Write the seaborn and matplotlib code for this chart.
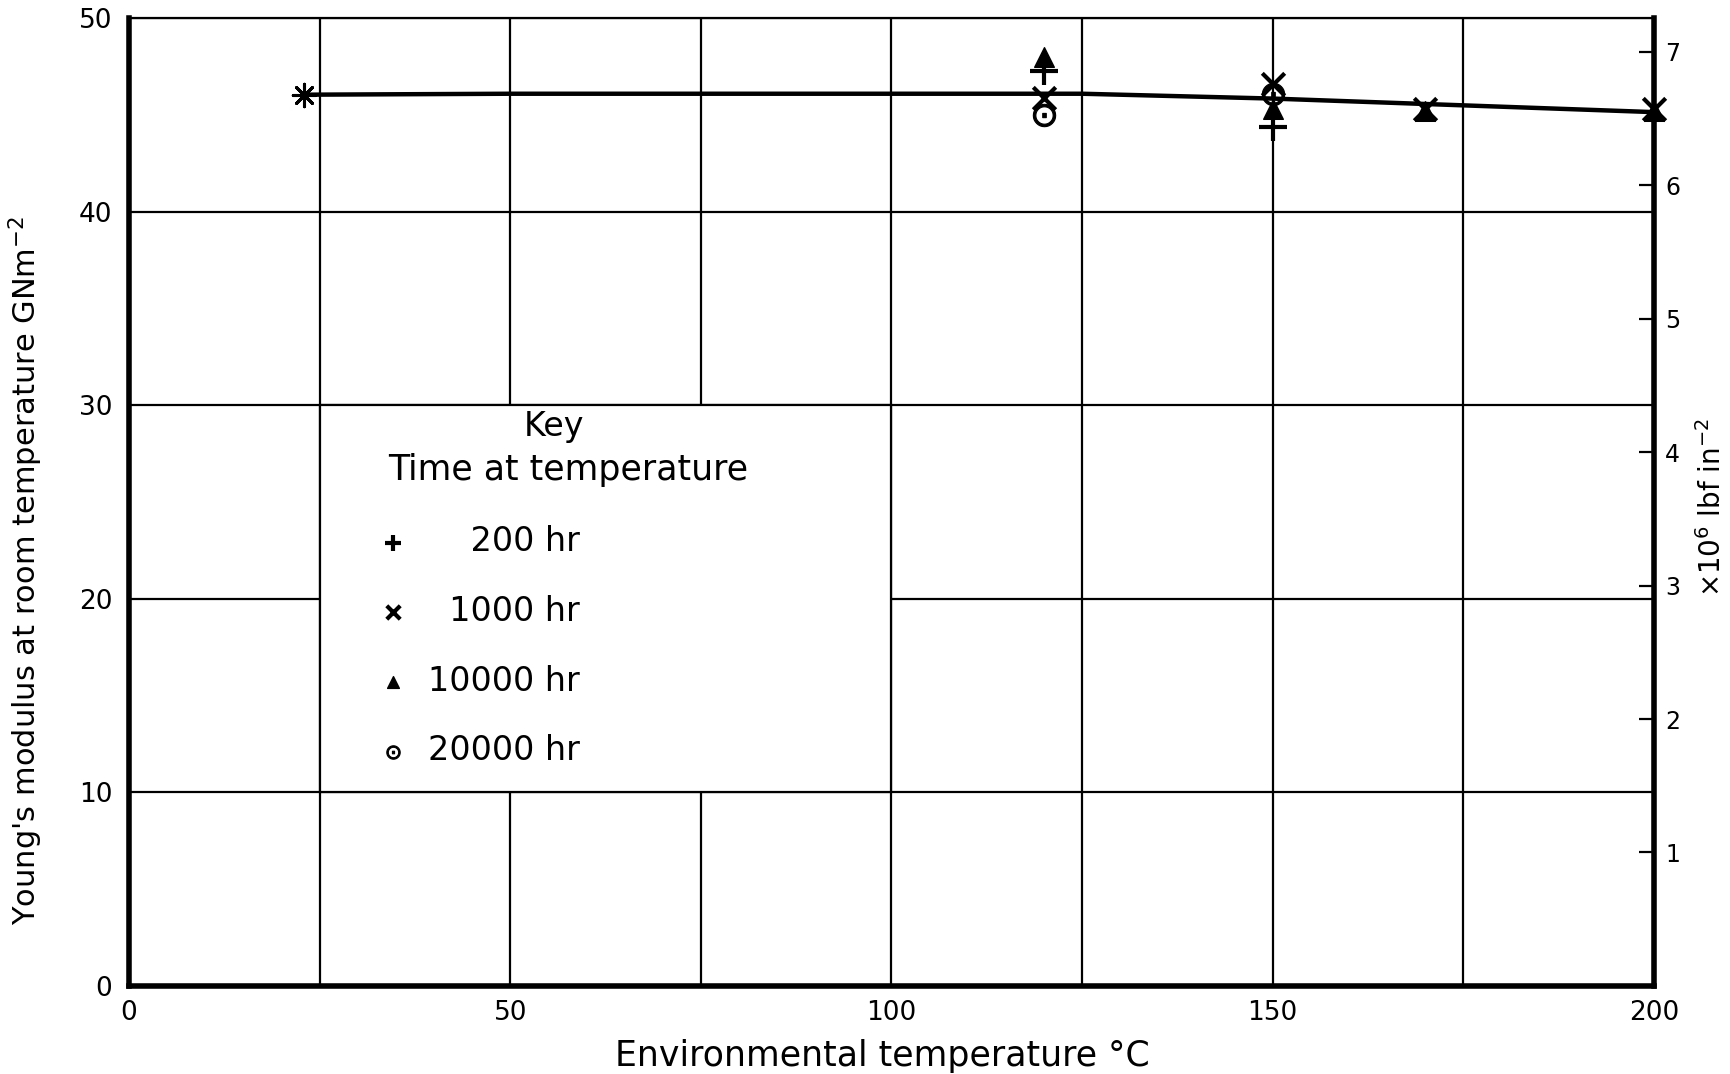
import matplotlib
matplotlib.use("Agg")
import matplotlib.pyplot as plt
import seaborn as sns
import pandas as pd
from matplotlib.patches import Rectangle

# ---------------- data ----------------
curve_temp = [23, 50, 100, 125, 150, 175, 200]
curve_modulus = [46.05, 46.1, 46.1, 46.1, 45.85, 45.5, 45.15]

initial_temp = [23]
initial_modulus = [46.05]

t200_temp = [120, 150]
t200_modulus = [47.3, 44.4]
t1000_temp = [120, 150, 170, 200]
t1000_modulus = [45.9, 46.6, 45.3, 45.3]
t10000_temp = [120, 150, 170, 200]
t10000_modulus = [48.0, 45.3, 45.2, 45.2]
t20000_temp = [120, 150]
t20000_modulus = [45.0, 46.1]

series_labels = ["\u2007\u2007200 hr", "\u20071000 hr", "10000 hr", "20000 hr"]

x_ticks = [0, 50, 100, 150, 200]
x_minor = [25, 75, 125, 175]
y_ticks = [0, 10, 20, 30, 40, 50]
right_ticks = [1, 2, 3, 4, 5, 6, 7]
GN_TO_MPSI = 0.145038  # 1 GN m^-2 = 0.145038 x10^6 lbf in^-2

# ---------------- figure ----------------
sns.set_style("white")
plt.rcParams["font.family"] = ["DejaVu Sans"]
plt.rcParams["mathtext.fontset"] = "dejavusans"
for key in ["text.color", "axes.labelcolor", "xtick.color", "ytick.color"]:
    plt.rcParams[key] = "black"

fig = plt.figure(figsize=(17.31, 10.74), dpi=100)
ax = fig.add_axes([0.0745, 0.082, 0.881, 0.901])

ax.set_xlim(0, 200)
ax.set_ylim(0, 50)
ax.set_xticks(x_ticks)
ax.set_xticks(x_minor, minor=True)
ax.set_yticks(y_ticks)
ax.grid(which="both", color="black", lw=1.6)
ax.set_axisbelow(True)
ax.tick_params(which="both", length=0, labelsize=19)
ax.tick_params(axis="y", pad=12)
ax.tick_params(axis="x", pad=10)

# key box (covers grid lines)
ax.add_patch(Rectangle((25, 10), 75, 20, facecolor="white", edgecolor="black",
                       lw=1.6, zorder=1.5))

# curve
curve_df = pd.DataFrame({"T": curve_temp, "E": curve_modulus})
sns.lineplot(data=curve_df, x="T", y="E", ax=ax, color="black", lw=3.2,
             zorder=3, legend=False)

# initial (room temperature) point
sns.scatterplot(x=initial_temp, y=initial_modulus, ax=ax, marker=(8, 2, 0),
                s=260, color="black", linewidth=2.2, zorder=4, legend=False,
                clip_on=False)

series = [
    (t200_temp, t200_modulus, "+", 380, 3.0),
    (t1000_temp, t1000_modulus, "x", 260, 3.0),
    (t10000_temp, t10000_modulus, "^", 200, 1.0),
    (t20000_temp, t20000_modulus, "$\\odot$", 260, 0.8),
]
for (tx, ty, mk, sz, lw), lab in zip(series, series_labels):
    sns.scatterplot(x=tx, y=ty, ax=ax, marker=mk, s=sz, color="black",
                    edgecolor="black", linewidth=lw, zorder=4, label=lab,
                    clip_on=False)

# key texts and legend
ax.text(55.8, 28.9, "Key", ha="center", va="center", fontsize=24, zorder=5)
ax.text(57.6, 26.65, "Time at temperature", ha="center", va="center",
        fontsize=25, zorder=5)
leg = ax.legend(loc="upper left", bbox_to_anchor=(32.4, 23.8),
                bbox_transform=ax.transData, frameon=False, fontsize=24,
                borderpad=0, borderaxespad=0, handlelength=1.0,
                handletextpad=0.55, labelspacing=1.1, markerscale=0.6)
leg.set_zorder(5)

# spines
for side in ["left", "bottom"]:
    ax.spines[side].set_linewidth(4)
    ax.spines[side].set_color("black")
ax.spines["top"].set_linewidth(1.6)
ax.spines["top"].set_color("black")
ax.spines["right"].set_visible(False)

ax.set_xlabel("Environmental temperature °C", fontsize=25)
ax.xaxis.set_label_coords(0.494, -0.055)
ax.set_ylabel("Young's modulus at room temperature GNm$^{-2}$", fontsize=22)
ax.yaxis.set_label_coords(-0.055, 0.43)

# right axis in x10^6 lbf in^-2
ax2 = ax.twinx()
ax2.set_ylim(0, 50 * GN_TO_MPSI)
ax2.set_yticks(right_ticks)
ax2.tick_params(axis="y", direction="in", length=11, width=1.6,
                labelsize=17, pad=8)
for side in ["left", "top", "bottom"]:
    ax2.spines[side].set_visible(False)
ax2.spines["right"].set_linewidth(4)
ax2.spines["right"].set_color("black")
ax2.grid(False)
ax2.set_ylabel("×10$^{6}$ lbf in$^{-2}$", fontsize=20)
ax2.yaxis.set_label_coords(1.028, 0.494)

fig.savefig("out.png", dpi=100, facecolor="white")
